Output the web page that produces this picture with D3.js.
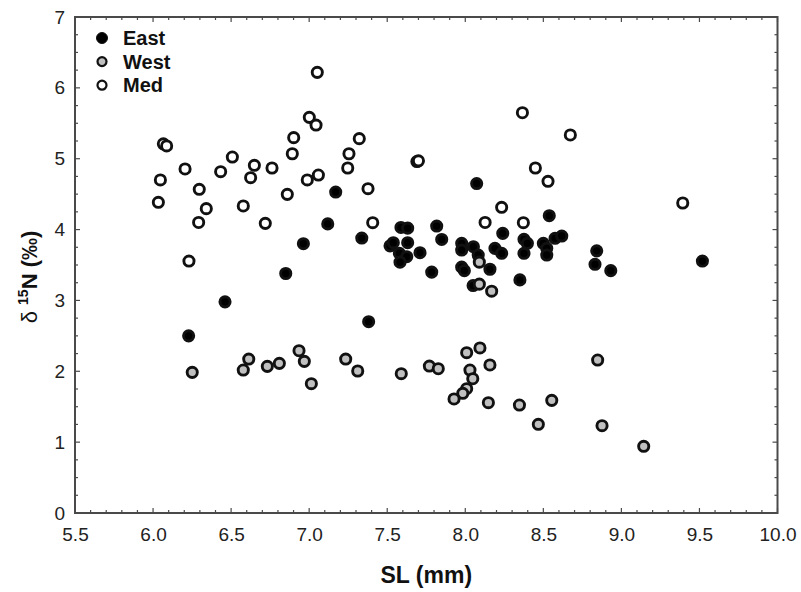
<!DOCTYPE html>
<html>
<head>
<meta charset="utf-8">
<script src="https://cdn.jsdelivr.net/npm/d3@7"></script>
<style>
  body { margin: 0; background: #fff; }
  svg { display: block; font-family: "Liberation Sans", Arial, sans-serif; }
</style>
</head>
<body>
<script>
// SL (mm), d15N (permil)
const east = [
  [6.228, 2.50], [6.461, 2.98], [6.85, 3.38], [6.963, 3.80], [7.119, 4.08],
  [7.17, 4.53], [7.337, 3.88], [7.381, 2.70], [7.588, 4.03], [7.631, 4.02],
  [7.518, 3.77], [7.539, 3.815], [7.631, 3.815], [7.71, 3.673], [7.578, 3.665],
  [7.625, 3.617], [7.582, 3.54], [7.785, 3.40], [7.817, 4.05], [7.849, 3.86],
  [7.977, 3.806], [8.052, 3.758], [7.977, 3.711], [8.083, 3.641], [7.977, 3.47],
  [7.994, 3.42], [8.05, 3.21], [8.073, 4.65], [8.24, 3.947], [8.19, 3.735],
  [8.233, 3.665], [8.158, 3.44], [8.376, 3.862], [8.398, 3.806], [8.376, 3.665],
  [8.35, 3.29], [8.5, 3.806], [8.522, 3.735], [8.522, 3.641], [8.538, 4.196],
  [8.575, 3.877], [8.618, 3.909], [8.842, 3.70], [8.831, 3.51], [8.932, 3.42],
  [9.519, 3.556]
];
const west = [
  [6.251, 1.985], [6.578, 2.018], [6.613, 2.173], [6.732, 2.07], [6.809, 2.112],
  [6.935, 2.29], [6.969, 2.14], [7.014, 1.825], [7.234, 2.173], [7.311, 2.004],
  [7.59, 1.966], [7.77, 2.074], [7.827, 2.036], [8.009, 2.262], [8.094, 2.329],
  [8.158, 2.089], [8.03, 2.018], [8.048, 1.895], [8.009, 1.754], [7.984, 1.689],
  [7.928, 1.609], [8.148, 1.557], [8.347, 1.524], [8.554, 1.59], [8.468, 1.252],
  [8.848, 2.159], [8.876, 1.232], [9.143, 0.941], [8.09, 3.54], [8.09, 3.23],
  [8.169, 3.13]
];
const med = [
  [6.034, 4.385], [6.047, 4.70], [6.066, 5.21], [6.087, 5.18], [6.205, 4.855],
  [6.23, 3.556], [6.296, 4.568], [6.292, 4.10], [6.341, 4.295], [6.433, 4.817],
  [6.508, 5.024], [6.578, 4.333], [6.625, 4.732], [6.649, 4.907], [6.719, 4.088],
  [6.762, 4.869], [6.86, 4.497], [6.892, 5.07], [6.901, 5.297], [6.988, 4.70],
  [7.001, 5.584], [7.044, 5.475], [7.052, 6.219], [7.059, 4.77], [7.247, 4.869],
  [7.255, 5.07], [7.321, 5.283], [7.377, 4.577], [7.407, 4.097], [7.69, 4.96],
  [7.70, 4.97], [8.366, 5.649], [8.673, 5.335], [8.449, 4.869], [8.53, 4.681],
  [9.393, 4.375], [8.233, 4.314], [8.127, 4.10], [8.372, 4.097]
];

const groups = ["East", "West", "Med"];
const fills = ["#000000", "#c0c0c0", "#ffffff"];
const xTicks = [5.5, 6.0, 6.5, 7.0, 7.5, 8.0, 8.5, 9.0, 9.5, 10.0];
const yTicks = [0, 1, 2, 3, 4, 5, 6, 7];

const width = 801, height = 592;
const margin = { top: 17, right: 23.5, bottom: 79, left: 75 };
const w = width - margin.left - margin.right;
const h = height - margin.top - margin.bottom;

const svg = d3.select("body").append("svg")
  .attr("width", width)
  .attr("height", height);

const x = d3.scaleLinear().domain([5.5, 10]).range([0, w]);
const y = d3.scaleLinear().domain([0, 7]).range([h, 0]);

const g = svg.append("g")
  .attr("transform", `translate(${margin.left},${margin.top})`);

const axisColor = "#4a4a4a";
const labelColor = "#222";

// minor ticks (inward, all four sides)
const xMinor = d3.range(55, 101).map((d) => d / 10);
const yMinor = d3.range(0, 29).map((d) => d / 4);
const isHalf = (d) => Math.abs(d * 2 - Math.round(d * 2)) < 1e-6;

const minor = g.append("g").attr("stroke", axisColor).attr("stroke-width", 1.2);
minor.selectAll(".xb").data(xMinor).join("line")
  .attr("x1", (d) => x(d)).attr("x2", (d) => x(d))
  .attr("y1", h).attr("y2", (d) => h - (isHalf(d) ? 5 : 3));
minor.selectAll(".xt").data(xMinor).join("line")
  .attr("x1", (d) => x(d)).attr("x2", (d) => x(d))
  .attr("y1", 0).attr("y2", (d) => (isHalf(d) ? 5 : 3));
minor.selectAll(".yl").data(yMinor).join("line")
  .attr("y1", (d) => y(d)).attr("y2", (d) => y(d))
  .attr("x1", 0).attr("x2", (d) => (Number.isInteger(d) ? 5 : 3));
minor.selectAll(".yr").data(yMinor).join("line")
  .attr("y1", (d) => y(d)).attr("y2", (d) => y(d))
  .attr("x1", w).attr("x2", (d) => w - (Number.isInteger(d) ? 5 : 3));

// axes for labels
const xAxis = g.append("g")
  .attr("transform", `translate(0,${h})`)
  .call(d3.axisBottom(x).tickValues(xTicks).tickFormat(d3.format(".1f")).tickSize(0).tickPadding(15));
const yAxis = g.append("g")
  .call(d3.axisLeft(y).tickValues(yTicks).tickFormat(d3.format("d")).tickSize(0).tickPadding(10));

[xAxis, yAxis].forEach((a) => {
  a.select(".domain").remove();
  a.selectAll("text")
    .attr("font-family", '"Liberation Sans", Arial, sans-serif')
    .attr("font-size", 19)
    .attr("fill", labelColor);
});

// frame
g.append("rect")
  .attr("width", w).attr("height", h)
  .attr("fill", "none")
  .attr("stroke", axisColor)
  .attr("stroke-width", 2);

// points
const sets = [east, west, med];
sets.forEach((data, i) => {
  g.append("g").selectAll("circle").data(data).join("circle")
    .attr("cx", (d) => x(d[0]))
    .attr("cy", (d) => y(d[1]))
    .attr("r", 5.1)
    .attr("fill", fills[i])
    .attr("stroke", "#111")
    .attr("stroke-width", 2.9);
});

// legend
const legend = g.append("g").attr("transform", "translate(27,21)");
groups.forEach((name, i) => {
  const row = legend.append("g").attr("transform", `translate(0,${i * 23.6})`);
  row.append("circle")
    .attr("r", i === 0 ? 5.5 : 4.5)
    .attr("fill", fills[i])
    .attr("stroke", "#111")
    .attr("stroke-width", i === 0 ? 1 : 2.2);
  row.append("text")
    .attr("x", 21)
    .attr("y", 7)
    .attr("font-size", 20)
    .attr("font-weight", "bold")
    .attr("fill", "#111")
    .text(name);
});

// axis titles
svg.append("text")
  .attr("x", margin.left + w / 2)
  .attr("y", 583)
  .attr("text-anchor", "middle")
  .attr("font-size", 23)
  .attr("font-weight", "bold")
  .attr("fill", "#111")
  .text("SL (mm)");

const yt = svg.append("text")
  .attr("transform", "translate(37,277) rotate(-90)")
  .attr("text-anchor", "middle")
  .attr("font-size", 22)
  .attr("fill", "#111");
yt.append("tspan").text("δ ");
yt.append("tspan").attr("font-size", 14).attr("font-weight", "bold").attr("dy", -9).text("15");
yt.append("tspan").attr("font-weight", "bold").attr("dy", 9).text("N (‰)");
</script>
</body>
</html>
